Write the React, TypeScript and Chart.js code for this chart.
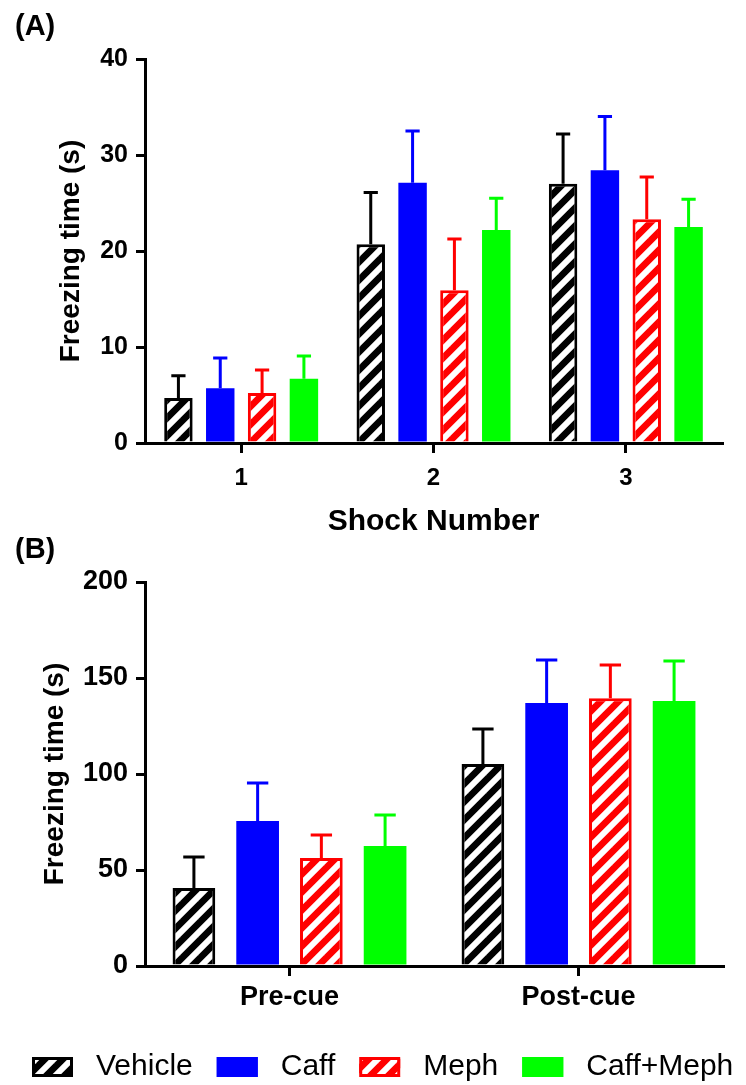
import React, { useEffect, useRef } from "react";
import { Chart, registerables } from "chart.js";

Chart.register(...registerables);

// ---------- data ----------
const groupNames = ["Vehicle", "Caff", "Meph", "Caff+Meph"];
const groupColors = ["#000000", "#0000ff", "#ff0000", "#00ff00"];
const groupHatched = [true, false, true, false];

const shockLabels = ["1", "2", "3"];
const shockVehicle = [4.7, 20.7, 27.0];
const shockVehicleErr = [2.3, 5.4, 5.2];
const shockCaff = [5.7, 27.1, 28.4];
const shockCaffErr = [3.15, 5.4, 5.6];
const shockMeph = [5.2, 15.9, 23.3];
const shockMephErr = [2.4, 5.35, 4.4];
const shockCaffMeph = [6.7, 22.2, 22.5];
const shockCaffMephErr = [2.35, 3.3, 2.9];
const shockTicks = [0, 10, 20, 30, 40];

const cueLabels = ["Pre-cue", "Post-cue"];
const cueVehicle = [40.6, 105.2];
const cueVehicleErr = [16.2, 18.2];
const cueCaff = [75.5, 137.0];
const cueCaffErr = [19.8, 22.4];
const cueMeph = [56.3, 139.5];
const cueMephErr = [11.9, 17.3];
const cueCaffMeph = [62.5, 138.0];
const cueCaffMephErr = [16.1, 20.9];
const cueTicks = [0, 50, 100, 150, 200];

const FONT = "'Liberation Sans', Arial, Helvetica, sans-serif";

function makeHatch(color: string): CanvasPattern | string {
  const s = 18;
  const c = document.createElement("canvas");
  c.width = s;
  c.height = s;
  const g = c.getContext("2d");
  if (!g) return color;
  g.fillStyle = color;
  g.fillRect(0, 0, s, s);
  g.strokeStyle = "#ffffff";
  g.lineWidth = 6;
  for (let k = -1; k <= 1; k++) {
    g.beginPath();
    g.moveTo(k * s - s, 2 * s);
    g.lineTo(k * s + 2 * s, -s);
    g.stroke();
  }
  return g.createPattern(c, "repeat") || color;
}

const errorBarPlugin = {
  id: "errorBars",
  afterDatasetsDraw(chart: any, _args: any, opts: any) {
    const ctx = chart.ctx;
    const yScale = chart.scales.y;
    chart.data.datasets.forEach((ds: any, i: number) => {
      const meta = chart.getDatasetMeta(i);
      meta.data.forEach((bar: any, j: number) => {
        const v = ds.data[j];
        const e = ds.errors[j];
        const x = bar.x;
        const yTop = bar.y;
        const yErr = yScale.getPixelForValue(v + e);
        const w = bar.width * opts.capRatio;
        ctx.save();
        ctx.strokeStyle = ds.borderColor;
        ctx.lineWidth = opts.lineWidth;
        ctx.beginPath();
        ctx.moveTo(x, yTop);
        ctx.lineTo(x, yErr);
        ctx.moveTo(x - w / 2, yErr);
        ctx.lineTo(x + w / 2, yErr);
        ctx.stroke();
        ctx.restore();
      });
    });
  },
};

const panelTagPlugin = {
  id: "panelTag",
  afterDraw(chart: any, _args: any, opts: any) {
    if (!opts.text) return;
    const ctx = chart.ctx;
    ctx.save();
    ctx.font = opts.font;
    ctx.fillStyle = "#000";
    ctx.textAlign = "left";
    ctx.textBaseline = "middle";
    ctx.fillText(opts.text, opts.x, opts.y);
    ctx.restore();
  },
};

const bottomLegendPlugin = {
  id: "bottomLegend",
  afterDraw(chart: any, _args: any, opts: any) {
    if (!opts.show) return;
    const ctx = chart.ctx;
    ctx.save();
    ctx.font = opts.font;
    ctx.textAlign = "left";
    ctx.textBaseline = "middle";
    let x = opts.x;
    chart.data.datasets.forEach((ds: any) => {
      const top = opts.y - opts.boxH / 2;
      ctx.fillStyle = ds.backgroundColor;
      ctx.fillRect(x, top, opts.boxW, opts.boxH);
      ctx.strokeStyle = ds.borderColor;
      ctx.lineWidth = 3;
      ctx.strokeRect(x + 1.5, top + 1.5, opts.boxW - 3, opts.boxH - 3);
      ctx.fillStyle = "#000";
      const tx = x + opts.boxW + opts.textGap;
      ctx.fillText(ds.label, tx, opts.y);
      x = tx + ctx.measureText(ds.label).width + opts.itemGap;
    });
    ctx.restore();
  },
};

function buildDatasets(values: number[][], errors: number[][]) {
  return groupNames.map((name, i) => ({
    label: name,
    data: values[i],
    errors: errors[i],
    backgroundColor: groupHatched[i] ? makeHatch(groupColors[i]) : groupColors[i],
    borderColor: groupColors[i],
    borderWidth: groupHatched[i] ? 3 : 0,
  }));
}

function makeConfig(p: any): any {
  return {
    type: "bar",
    data: { labels: p.labels, datasets: p.datasets },
    options: {
      responsive: false,
      animation: false,
      events: [],
      layout: { padding: { top: p.padTop, right: p.padRight, bottom: 0, left: 0 } },
      datasets: { bar: { categoryPercentage: p.catPct, barPercentage: p.barPct } },
      plugins: {
        legend: { display: false },
        tooltip: { enabled: false },
        errorBars: { capRatio: 0.5, lineWidth: 3 },
        panelTag: { text: p.tag, x: 15, y: p.tagY, font: `bold 29px ${FONT}` },
        bottomLegend: p.legend,
      },
      scales: {
        x: {
          grid: {
            display: true,
            drawOnChartArea: false,
            offset: false,
            tickLength: 10,
            lineWidth: 3,
            color: "#000",
          },
          border: { display: true, width: 3, color: "#000" },
          ticks: {
            color: "#000",
            padding: p.xTickPad,
            font: { family: FONT, size: p.xTickSize, weight: "bold", lineHeight: 1 },
          },
          title: {
            display: !!p.xTitle,
            text: p.xTitle,
            color: "#000",
            font: { family: FONT, size: 30, weight: "bold", lineHeight: 1 },
            padding: { top: 0, bottom: 0 },
          },
          afterFit: (s: any) => {
            s.height = p.xHeight;
          },
        },
        y: {
          min: p.ticks[0],
          max: p.ticks[p.ticks.length - 1],
          afterBuildTicks: (s: any) => {
            s.ticks = p.ticks.map((v: number) => ({ value: v }));
          },
          grid: {
            display: true,
            drawOnChartArea: false,
            tickLength: 9,
            lineWidth: 3,
            color: "#000",
          },
          border: { display: true, width: 3, color: "#000" },
          ticks: {
            color: "#000",
            padding: 8,
            font: { family: FONT, size: p.yTickSize, weight: "bold", lineHeight: 1 },
          },
          title: {
            display: true,
            text: "Freezing time (s)",
            color: "#000",
            font: { family: FONT, size: 28, weight: "bold", lineHeight: 1 },
            padding: { top: p.yTitlePad, bottom: 0 },
          },
          afterFit: (s: any) => {
            s.width = 145;
          },
        },
      },
    },
    plugins: [errorBarPlugin, panelTagPlugin, bottomLegendPlugin],
  };
}

export default function App() {
  const refA = useRef<HTMLCanvasElement>(null);
  const refB = useRef<HTMLCanvasElement>(null);

  useEffect(() => {
    document.body.style.margin = "0";
    if (!refA.current || !refB.current) return;

    const chartA = new Chart(
      refA.current,
      makeConfig({
        labels: shockLabels,
        datasets: buildDatasets(
          [shockVehicle, shockCaff, shockMeph, shockCaffMeph],
          [shockVehicleErr, shockCaffErr, shockMephErr, shockCaffMephErr]
        ),
        ticks: shockTicks,
        padTop: 59,
        padRight: 24,
        catPct: 0.87,
        barPct: 0.68,
        tag: "(A)",
        tagY: 27,
        xTickPad: 13,
        xTickSize: 24,
        yTickSize: 25,
        xTitle: "Shock Number",
        xHeight: 94,
        yTitlePad: 57,
        legend: { show: false },
      })
    );

    const chartB = new Chart(
      refB.current,
      makeConfig({
        labels: cueLabels,
        datasets: buildDatasets(
          [cueVehicle, cueCaff, cueMeph, cueCaffMeph],
          [cueVehicleErr, cueCaffErr, cueMephErr, cueCaffMephErr]
        ),
        ticks: cueTicks,
        padTop: 45,
        padRight: 23,
        catPct: 0.882,
        barPct: 0.67,
        tag: "(B)",
        tagY: 13,
        xTickPad: 8,
        xTickSize: 27,
        yTickSize: 27,
        xTitle: "",
        xHeight: 119,
        yTitlePad: 41,
        legend: {
          show: true,
          x: 32,
          y: 530,
          boxW: 41,
          boxH: 20,
          textGap: 23,
          itemGap: 24,
          font: `30px ${FONT}`,
        },
      })
    );

    return () => {
      chartA.destroy();
      chartB.destroy();
    };
  }, []);

  return (
    <div
      style={{
        position: "relative",
        width: 746,
        height: 1085,
        overflow: "hidden",
        background: "#ffffff",
      }}
    >
      <canvas
        ref={refA}
        width={746}
        height={537}
        style={{ position: "absolute", left: 0, top: 0, width: 746, height: 537 }}
      />
      <canvas
        ref={refB}
        width={746}
        height={548}
        style={{ position: "absolute", left: 0, top: 537, width: 746, height: 548 }}
      />
    </div>
  );
}
